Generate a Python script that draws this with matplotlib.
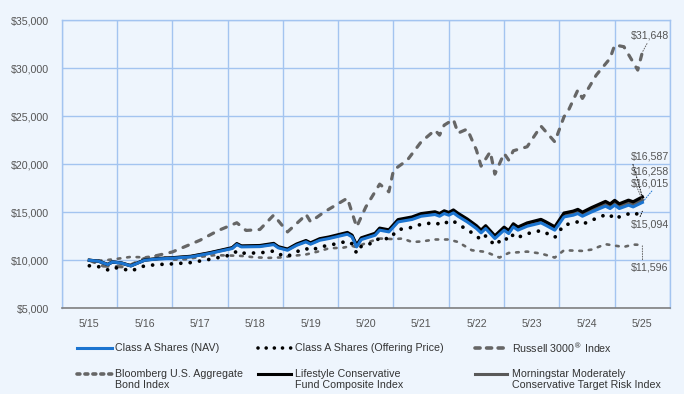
import matplotlib
matplotlib.use("Agg")
import matplotlib.pyplot as plt
from matplotlib.lines import Line2D

# Hypothetical $10,000 investment, months since 5/15
tick_labels = ["5/15", "5/16", "5/17", "5/18", "5/19", "5/20",
               "5/21", "5/22", "5/23", "5/24", "5/25"]

fund_months = [0, 2, 4, 5, 7, 9, 12, 15, 18, 22, 26, 31, 32, 33, 37, 40, 41, 43,
               45, 47, 48, 50, 52, 56, 57, 58, 59, 62, 63, 65, 67, 70, 72, 75,
               76, 77, 78, 79, 80, 82, 83, 84, 85, 86, 88, 90, 91, 92, 93, 95,
               98, 99, 101, 103, 105, 106, 107, 109, 112, 113, 114, 115, 117,
               118, 120]
nav = [10000, 9900, 9550, 9820, 9700, 9410, 10000, 10140, 10210, 10350, 10700,
       11220, 11630, 11390, 11420, 11630, 11290, 11040, 11560, 11910, 11670,
       12080, 12260, 12710, 12430, 11390, 12150, 12600, 13130, 12950, 13990,
       14240, 14580, 14760, 14580, 14860, 14690, 14930, 14580, 13990, 13650,
       13300, 12850, 13300, 12260, 13130, 12780, 13470, 13130, 13540, 13890,
       13650, 13130, 14510, 14690, 14860, 14580, 15030, 15630, 15380, 15730,
       15380, 15730, 15550, 16015]
offering = [9425, 9331, 9001, 9255, 9142, 8869, 9425, 9557, 9623, 9755, 10085,
            10575, 10961, 10735, 10763, 10961, 10641, 10405, 10895, 11225,
            10999, 11385, 11555, 11979, 11715, 10735, 11451, 11876, 12375,
            12205, 13186, 13421, 13742, 13911, 13742, 14006, 13845, 14072,
            13742, 13186, 12865, 12535, 12111, 12535, 11555, 12375, 12045,
            12695, 12375, 12761, 13091, 12865, 12375, 13676, 13845, 14006,
            13742, 14166, 14731, 14496, 14826, 14496, 14826, 14656, 15094]
composite = [10000, 9910, 9560, 9830, 9710, 9430, 10030, 10180, 10260, 10410,
             10770, 11310, 11730, 11490, 11530, 11750, 11410, 11160, 11690,
             12050, 11810, 12240, 12420, 12890, 12610, 11560, 12330, 12800,
             13340, 13160, 14230, 14500, 14850, 15040, 14860, 15140, 14970,
             15230, 14880, 14290, 13940, 13590, 13130, 13590, 12540, 13440,
             13090, 13790, 13450, 13880, 14250, 14010, 13480, 14910, 15110,
             15290, 15000, 15480, 16120, 15860, 16230, 15870, 16250, 16080,
             16587]
morningstar = [10000, 9905, 9555, 9825, 9705, 9420, 10015, 10160, 10235,
               10380, 10735, 11265, 11680, 11440, 11475, 11690, 11350, 11100,
               11625, 11980, 11740, 12160, 12340, 12800, 12520, 11470, 12240,
               12700, 13235, 13055, 14110, 14370, 14715, 14900, 14720, 15000,
               14830, 15080, 14730, 14140, 13795, 13445, 12990, 13445, 12400,
               13285, 12935, 13630, 13290, 13710, 14070, 13830, 13305, 14710,
               14900, 15075, 14790, 15255, 15875, 15620, 15980, 15625, 15990,
               15815, 16258]

russell_months = [0, 3, 8, 12, 18, 24, 28, 32, 34, 37, 40, 43, 46, 47, 48, 51,
                  56, 58, 60, 63, 65, 66, 69, 72, 75, 76, 77, 79, 80, 82, 84,
                  85, 87, 88, 90, 91, 92, 95, 98, 101, 103, 104, 106, 107, 110,
                  113, 114, 116, 119, 120]
russell = [10000, 9400, 9300, 10200, 10860, 12080, 13100, 13900, 13100, 13200,
           14700, 12950, 14270, 14800, 14000, 15030, 16460, 13470, 15550,
           17920, 17120, 19380, 20420, 22320, 23540, 23020, 24060, 24650,
           23230, 23650, 21460, 19790, 21290, 18960, 21120, 20420, 21390,
           21810, 23960, 22320, 24930, 25630, 27710, 26840, 29270, 31010,
           32400, 32220, 29790, 31648]

bond_months = [0, 3, 6, 9, 12, 15, 18, 21, 24, 27, 30, 33, 36, 39, 42, 44, 47,
               50, 52, 55, 57, 58, 60, 63, 66, 68, 70, 72, 75, 78, 80, 83, 86,
               89, 91, 95, 98, 101, 103, 107, 109, 112, 115, 116, 118, 120]
bond = [10000, 9970, 10150, 10350, 10300, 10480, 10050, 10100, 10350, 10520,
        10500, 10450, 10300, 10250, 10300, 10450, 10600, 10950, 11250, 11300,
        11500, 11350, 11800, 12260, 12200, 12260, 11900, 11950, 12160, 12160,
        11900, 11040, 10870, 10280, 10760, 10900, 10700, 10280, 11040, 10970,
        11110, 11670, 11450, 11390, 11630, 11596]

plt.rcParams['font.family'] = ['Liberation Sans', 'DejaVu Sans']

W, H = 684, 394
fig = plt.figure(figsize=(W / 100, H / 100), dpi=100)
fig.patch.set_facecolor('#EEF5FD')
ax = fig.add_axes([61.7 / W, 1 - 308.3 / H, (670 - 61.7) / W, (308.3 - 20) / H])
ax.set_facecolor('#EEF5FD')

grid_c = '#A3C4F0'
blue = '#1B74D0'
gray = '#666666'
text_c = '#555555'

ax.plot(fund_months, morningstar, color='#595959', lw=2.3, zorder=3)
ax.plot(fund_months, composite, color='black', lw=2.3, zorder=4)
ax.plot(fund_months, nav, color=blue, lw=2.2, zorder=5)
ax.plot(fund_months, offering, color='black', lw=2.7, ls=(0, (0.01, 2.5)),
        dash_capstyle='round', zorder=6)
ax.plot(russell_months, russell, color=gray, lw=2.3, ls=(0, (1.8, 2.6)),
        dash_capstyle='round', zorder=2)
ax.plot(bond_months, bond, color=gray, lw=1.9, ls=(0, (1.0, 2.6)),
        dash_capstyle='round', zorder=2)

ax.set_xlim(-6, 126)
ax.set_ylim(5000, 35000)
ax.set_xticks(range(0, 121, 12))
ax.set_xticklabels(tick_labels)
ax.set_xticks(range(-6, 127, 12), minor=True)
ax.set_yticks(range(5000, 35001, 5000))
ax.set_yticklabels([f"${v:,}" for v in range(5000, 35001, 5000)])
ax.tick_params(which='both', length=0, labelsize=7.7, labelcolor=text_c)
ax.tick_params(axis='y', pad=9)
ax.tick_params(axis='x', pad=8)
ax.grid(True, which='minor', axis='x', color=grid_c, lw=1.0)
ax.grid(True, which='major', axis='y', color=grid_c, lw=1.0)
ax.set_axisbelow(True)
for s in ['top', 'left', 'right']:
    ax.spines[s].set_color(grid_c)
    ax.spines[s].set_linewidth(1.0)
ax.spines['bottom'].set_color('#808080')
ax.spines['bottom'].set_linewidth(1.2)

# end-value labels with dotted leaders (relpos = where the leader leaves the text)
ends = [
    (f"${russell[-1]:,}", russell[-1], 33350, gray, (0.45, 0.0)),
    (f"${composite[-1]:,}", composite[-1], 20780, 'black', (0.0, 0.3)),
    (f"${morningstar[-1]:,}", morningstar[-1], 19220, gray, (0.0, 0.3)),
    (f"${nav[-1]:,}", nav[-1], 18010, blue, (0.6, 0.0)),
    (f"${offering[-1]:,}", offering[-1], 13740, 'black', (0.2, 1.0)),
    (f"${bond[-1]:,}", bond[-1], 9250, gray, (0.3, 1.0)),
]
for txt, yv, ty, c, rp in ends:
    ax.annotate(txt, xy=(120, yv), xytext=(117.6, ty), ha='left', va='center',
                fontsize=7.7, color=text_c, zorder=7,
                arrowprops=dict(arrowstyle='-', ls=':', lw=0.7, color=c,
                                relpos=rp, shrinkA=0, shrinkB=0))


# legend drawn by hand
def px(x, y):
    return x / W, 1 - y / H


legend_items = [
    (77, 112, 348, 115, "Class A Shares (NAV)",
     dict(color=blue, lw=2.2)),
    (258, 292, 348, 295, "Class A Shares (Offering Price)",
     dict(color='black', lw=2.6, ls=(0, (0.01, 2.25)), dash_capstyle='round')),
    (475, 507, 348, 512, "Russell 3000$^{\u00ae}$ Index",
     dict(color=gray, lw=2.6, ls=(0, (1.4, 1.8)), dash_capstyle='round')),
    (77, 112, 373.5, 115, "Bloomberg U.S. Aggregate\nBond Index",
     dict(color=gray, lw=2.6, ls=(0, (0.8, 1.4)), dash_capstyle='round')),
    (258, 291, 373.5, 295, "Lifestyle Conservative\nFund Composite Index",
     dict(color='black', lw=2.2)),
    (475, 507, 373.5, 512, "Morningstar Moderately\nConservative Target Risk Index",
     dict(color='#595959', lw=2.2)),
]
for x0, x1, y, tx, label, style in legend_items:
    (fx0, fy), (fx1, _) = px(x0, y), px(x1, y)
    fig.add_artist(Line2D([fx0, fx1], [fy, fy], transform=fig.transFigure, **style))
    n = label.count("\n")
    tfx, tfy = px(tx, y + n * 5.8)
    fig.text(tfx, tfy, label, ha='left', va='center', fontsize=7.7,
             color='#333333', linespacing=1.1)

fig.savefig("out.png", dpi=100, facecolor=fig.get_facecolor())
